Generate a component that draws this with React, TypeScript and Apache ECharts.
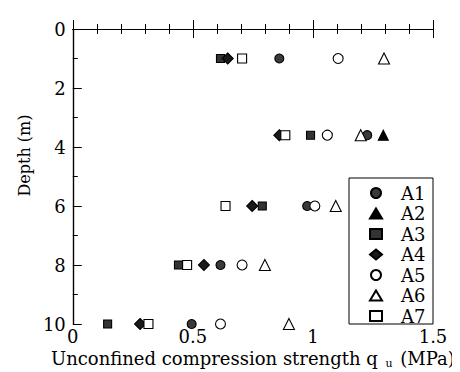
import React, { useEffect, useRef } from "react";
import * as echarts from "echarts";

// Depths (m) and unconfined compression strength qu (MPa) per sample group
const A1_depth = [1, 3.6, 6, 8, 10];
const A1_qu = [0.86, 1.226, 0.976, 0.615, 0.495];
const A2_depth = [3.6];
const A2_qu = [1.293];
const A3_depth = [1, 3.6, 6, 8, 10];
const A3_qu = [0.615, 0.99, 0.789, 0.44, 0.145];
const A4_depth = [1, 3.6, 6, 8, 10];
const A4_qu = [0.645, 0.86, 0.747, 0.546, 0.28];
const A5_depth = [1, 3.6, 6, 8, 10];
const A5_qu = [1.105, 1.06, 1.008, 0.705, 0.615];
const A6_depth = [1, 3.6, 6, 8, 10];
const A6_qu = [1.296, 1.199, 1.095, 0.8, 0.9];
const A7_depth = [1, 3.6, 6, 8, 10];
const A7_qu = [0.705, 0.885, 0.636, 0.476, 0.315];

const xTicks = [0, 0.5, 1, 1.5];
const yTicks = [0, 2, 4, 6, 8, 10];

const FONT = "DejaVu Serif, Liberation Serif, serif";

const seriesDefs = [
  { name: "A1", depth: A1_depth, qu: A1_qu, symbol: "circle", size: 9, fill: "#3a3a3a" },
  { name: "A2", depth: A2_depth, qu: A2_qu, symbol: "triangle", size: 10, fill: "#000" },
  { name: "A3", depth: A3_depth, qu: A3_qu, symbol: "rect", size: 8, fill: "#333" },
  { name: "A4", depth: A4_depth, qu: A4_qu, symbol: "diamond", size: 11, fill: "#1a1a1a" },
  { name: "A5", depth: A5_depth, qu: A5_qu, symbol: "circle", size: 10, fill: "#fff" },
  { name: "A6", depth: A6_depth, qu: A6_qu, symbol: "triangle", size: 11, fill: "#fff" },
  { name: "A7", depth: A7_depth, qu: A7_qu, symbol: "rect", size: 9, fill: "#fff" },
];

export default function App() {
  const ref = useRef<HTMLDivElement>(null);
  useEffect(() => {
    if (!ref.current) return;
    const chart = echarts.init(ref.current, null, { renderer: "svg" });
    const axisLine = { show: true, lineStyle: { color: "#000", width: 1.2 } };
    const xCommon = {
      type: "value" as const,
      min: xTicks[0],
      max: xTicks[xTicks.length - 1],
      interval: 0.5,
      axisLine,
      axisTick: { show: true, inside: true, length: 9, lineStyle: { color: "#000", width: 1 } },
      minorTick: { show: true, splitNumber: 5, length: 5, lineStyle: { color: "#000", width: 1 } },
      splitLine: { show: false },
      minorSplitLine: { show: false },
    };
    chart.setOption({
      animation: false,
      backgroundColor: "#fff",
      textStyle: { fontFamily: FONT, color: "#000" },
      grid: { left: 64, right: 35, top: 21, bottom: 56, containLabel: false },
      xAxis: [
        {
          ...xCommon,
          position: "bottom",
          axisLabel: { color: "#000", fontSize: 18, fontFamily: FONT, margin: 3 },
          name: "Unconfined compression strength q {sub|u} (MPa)",
          nameLocation: "middle",
          nameGap: 19,
          nameTextStyle: {
            color: "#000",
            fontSize: 18,
            fontFamily: FONT,
            verticalAlign: "top",
            rich: { sub: { fontSize: 11, fontFamily: FONT, color: "#000", padding: [9, 2, 0, 2] } },
          },
        },
        { ...xCommon, position: "top", axisLabel: { show: false } },
      ],
      yAxis: [
        {
          type: "value",
          inverse: true,
          min: yTicks[0],
          max: yTicks[yTicks.length - 1],
          interval: 2,
          position: "left",
          axisLine,
          axisTick: { show: true, inside: true, length: 9, lineStyle: { color: "#000", width: 1 } },
          minorTick: { show: true, splitNumber: 2, length: 5, lineStyle: { color: "#000", width: 1 } },
          splitLine: { show: false },
          axisLabel: { color: "#000", fontSize: 18, fontFamily: FONT, margin: 7 },
          name: "Depth (m)",
          nameLocation: "middle",
          nameGap: 27,
          nameRotate: 90,
          nameTextStyle: { color: "#000", fontSize: 16, fontFamily: FONT, padding: [0, 0, 0, 42] },
        },
        {
          type: "value",
          inverse: true,
          min: 0,
          max: 10,
          position: "right",
          axisLine,
          axisTick: { show: false },
          axisLabel: { show: false },
          splitLine: { show: false },
        },
      ],
      graphic: [
        {
          type: "rect",
          z: 1,
          shape: { x: 341, y: 170, width: 84, height: 146 },
          style: { fill: "#fff", stroke: "#000", lineWidth: 1 },
        },
      ],
      legend: {
        orient: "vertical",
        left: 361,
        top: 175,
        padding: 0,
        itemWidth: 12,
        itemHeight: 10,
        itemGap: 0.5,
        selectedMode: false,
        z: 5,
        data: seriesDefs.map((s) => s.name),
        textStyle: { color: "#000", fontSize: 18, lineHeight: 20, fontFamily: FONT, padding: [0, 0, 0, 14] },
      },
      series: seriesDefs.map((s) => ({
        name: s.name,
        type: "scatter",
        xAxisIndex: 0,
        yAxisIndex: 0,
        symbol: s.symbol,
        symbolSize: s.size,
        z: 3,
        itemStyle: { color: s.fill, borderColor: "#000", borderWidth: 1.1, opacity: 1 },
        data: s.qu.map((v, i) => [v, s.depth[i]]),
      })),
    });
    return () => chart.dispose();
  }, []);
  return <div ref={ref} style={{ width: 460, height: 372 }} />;
}
